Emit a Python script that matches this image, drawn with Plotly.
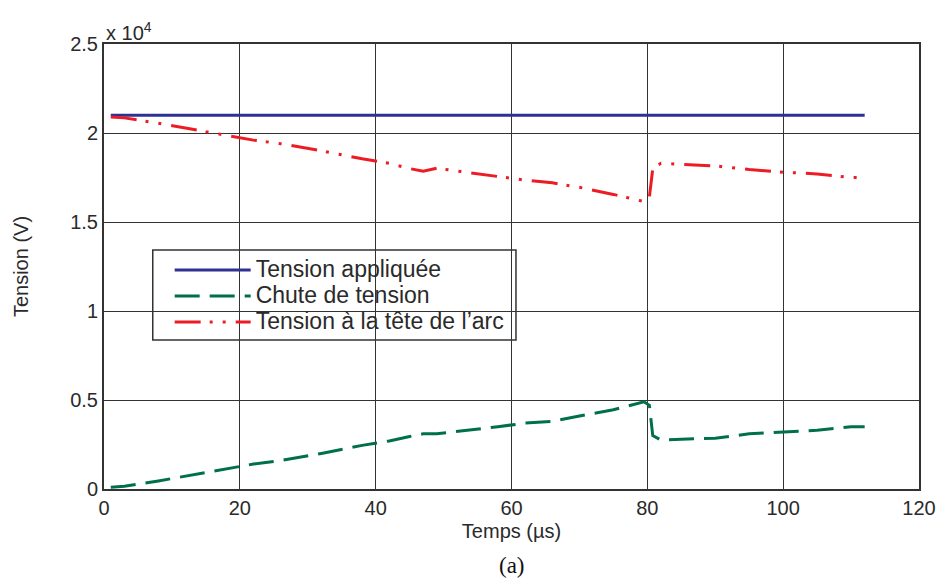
import plotly.graph_objects as go

# Time (µs)
temps = [1, 3, 8, 14, 20, 22, 26, 32, 38, 42, 45, 47, 49, 55, 58, 62, 66, 70, 75,
         79.5, 80.3, 80.8, 82, 85, 90, 95, 100, 105, 110, 112]
# Voltages (V)
tension_appliquee = [21000] * len(temps)
chute_tension = [100, 150, 450, 850, 1250, 1400, 1600, 2000, 2450, 2700, 2950, 3100,
                 3100, 3350, 3500, 3700, 3800, 4100, 4450, 4900, 4700, 3000, 2750,
                 2800, 2850, 3100, 3200, 3300, 3500, 3500]
tension_tete_arc = [20900, 20850, 20550, 20150, 19750, 19600, 19400, 19000, 18550,
                    18300, 18000, 17850, 18020, 17700, 17550, 17350, 17200, 16950,
                    16550, 16150, 16400, 18000, 18300, 18250, 18150, 17950, 17800,
                    17700, 17500, 17500]

series_names = ["Tension appliquée", "Chute de tension", "Tension à la tête de l’arc"]

y_tickvals = [0, 5000, 10000, 15000, 20000, 25000]
y_ticktext = ["0", "0.5", "1", "1.5", "2", "2.5"]
x_tickvals = [0, 20, 40, 60, 80, 100, 120]

font_family = "Liberation Sans, Arial, Helvetica, sans-serif"
txt = "#2a2a2a"


def big(s):
    return '<span style="font-size:23px">' + s + '</span>'


fig = go.Figure()
fig.add_trace(go.Scatter(x=temps, y=tension_appliquee, mode="lines",
                         name=big(series_names[0]),
                         line=dict(color="#2e3192", width=3)))
fig.add_trace(go.Scatter(x=temps, y=chute_tension, mode="lines",
                         name=big(series_names[1]),
                         line=dict(color="#00704a", width=3, dash="25px,10px")))
fig.add_trace(go.Scatter(x=temps, y=tension_tete_arc, mode="lines",
                         name=big(series_names[2]),
                         line=dict(color="#ed1c24", width=3,
                                   dash="26px,9px,3px,10px,3px,10px")))

fig.update_layout(
    width=948, height=587,
    margin=dict(l=104, r=25, t=44, b=98),
    paper_bgcolor="white", plot_bgcolor="white",
    font=dict(family=font_family, size=20, color=txt),
    showlegend=True,
    legend=dict(x=(170 - 104) / 819, y=(489 - 252) / 445, xanchor="left", yanchor="top",
                bgcolor="rgba(0,0,0,0)", borderwidth=0,
                itemwidth=76, tracegroupgap=0,
                font=dict(family=font_family, size=17.7, color=txt)),
    xaxis=dict(range=[0, 120], tickvals=x_tickvals, showgrid=True,
               gridcolor="#333333", gridwidth=1, zeroline=False,
               showline=True, linecolor="#333333", linewidth=2, mirror=True,
               ticks="", tickfont=dict(size=20, color=txt),
               title=dict(text="Temps (µs)", font=dict(size=20, color=txt), standoff=6)),
    yaxis=dict(range=[0, 25000], tickvals=y_tickvals, ticktext=y_ticktext,
               showgrid=True, gridcolor="#333333", gridwidth=1, zeroline=False,
               showline=True, linecolor="#333333", linewidth=2, mirror=True,
               ticks="", tickfont=dict(size=20, color=txt),
               title=dict(text="Tension (V)", font=dict(size=20, color=txt), standoff=36)),
    shapes=[dict(type="rect", xref="paper", yref="paper",
                 x0=(153 - 104) / 819, x1=(518 - 104) / 819,
                 y0=(489 - 340) / 445, y1=(489 - 250) / 445,
                 line=dict(color="#333333", width=1.5), fillcolor="rgba(0,0,0,0)")],
    annotations=[
        dict(text="x 10<sup>4</sup>", xref="paper", yref="paper", x=0, y=1,
             xanchor="left", yanchor="bottom", showarrow=False, yshift=-2,
             font=dict(size=20, color=txt)),
        dict(text="(a)", xref="paper", yref="paper", x=0.5, y=(489 - 551) / 445,
             xanchor="center", yanchor="top", showarrow=False,
             font=dict(family="Liberation Serif, Times New Roman, serif",
                       size=23, color="#111111")),
    ],
)

fig.write_html("out.html", config={"displayModeBar": False},
               post_script="document.body.style.margin='0';")
